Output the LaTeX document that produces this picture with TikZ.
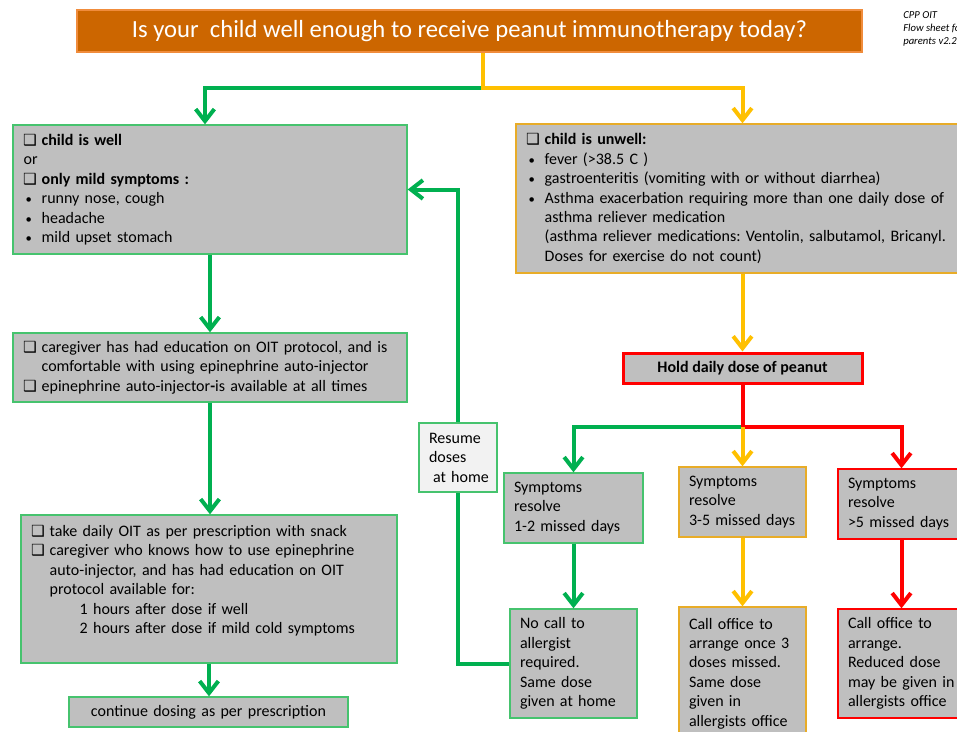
\documentclass[tikz,border=0pt]{standalone}
\usepackage{fontspec}
\setmainfont{Carlito}
\newfontfamily\symfont{DejaVu Sans}
\usetikzlibrary{arrows.meta}
\definecolor{grn}{RGB}{0,176,80}
\definecolor{grnedge}{RGB}{70,195,110}
\definecolor{ylw}{RGB}{255,192,0}
\definecolor{ylwedge}{RGB}{232,172,40}
\definecolor{rd}{RGB}{255,0,0}
\definecolor{boxgray}{RGB}{191,191,191}
\definecolor{paleg}{RGB}{242,242,242}
\definecolor{titleorange}{RGB}{204,102,0}
\definecolor{titleedge}{RGB}{240,140,60}
\newcommand{\chk}{\makebox[13.5pt][l]{\hspace{-0.5pt}\symfont\bfseries\fontsize{11.5}{11.5}\selectfont ❑}}
\newcommand{\bul}{\makebox[13.5pt][l]{\hspace{1.5pt}\fontsize{9.5}{9.5}\selectfont•}}
\newcommand{\ind}{\hspace*{13.5pt}}
\frenchspacing
\begin{document}
\begin{tikzpicture}[
x=0.75pt, y=-0.75pt,
every node/.style={font=\fontsize{12}{14.6}\selectfont},
box/.style={rectangle, draw, fill=boxgray, line width=1pt, inner xsep=8pt, inner ysep=0pt, align=left},
grnbox/.style={box, draw=grnedge},
ylwbox/.style={box, draw=ylwedge},
rdbox/.style={box, draw=rd},
smallbox/.style={inner xsep=7.5pt, minimum width=95.25pt, text width=80.25pt},
titlebox/.style={rectangle, fill=titleorange, draw=titleedge, line width=1pt, minimum width=588.75pt, minimum height=31.5pt, text=white, font=\fontsize{18.5}{20}\selectfont},
note/.style={align=left, inner sep=0pt, font=\fontsize{8}{9.75}\selectfont\itshape},
link/.style={line width=3pt},
flow/.style={link, -{Straight Barb[length=9pt,width=14pt]}},
]
\useasboundingbox (0,0) rectangle (957,732);

\node[titlebox] (title) at (469.5,31) {Is your\ \ child well enough to receive peanut immunotherapy today?};
\node[note, anchor=north west] (version) at (903,11) {CPP OIT\\Flow sheet for\\parents v2.2};

\node[grnbox, minimum width=295.5pt, minimum height=96.75pt, text width=279.5pt] (well) at (210,189.5)
  {\chk\textbf{child is well}\\ or\\ \chk\textbf{only mild symptoms :}\\ \bul runny nose, cough\\ \bul headache\\ \bul mild upset stomach};
\node[grnbox, minimum width=295.5pt, minimum height=51.75pt, text width=279.5pt] (care) at (210,367.5)
  {\chk \mbox{caregiver has had education on OIT protocol, and is}\\ \ind comfortable with using epinephrine auto-injector\\ \chk epinephrine auto-injector\textbf{-}is available at all times};
\node[grnbox, minimum width=282pt, minimum height=111pt, text width=266pt] (take) at (209,589)
  {\chk take daily OIT as per prescription with snack\\ \chk caregiver who knows how to use epinephrine\\ \ind auto-injector, and has had education on OIT\\ \ind protocol available for:\\ \hspace*{36pt}1 hours after dose if well\\ \hspace*{36pt}2 hours after dose if mild cold symptoms\\ \mbox{}};
\node[grnbox, minimum width=209.25pt, minimum height=22.5pt, text width=193.25pt, align=center] (cont) at (208.5,712)
  {continue dosing as per prescription};
\node[grnbox, fill=paleg, inner xsep=7.5pt, minimum width=58.5pt, minimum height=51.75pt, text width=43.5pt] (resume) at (458,457.5)
  {Resume\\ doses\\ \mbox{\hspace*{3pt}at home}};

\node[ylwbox, minimum width=334.5pt, minimum height=111.75pt, text width=318.5pt] (unwell) at (739,198.5)
  {\chk\textbf{child is unwell:}\\ \bul fever (>38.5 C )\\ \bul gastroenteritis (vomiting with or without diarrhea)\\ \bul \mbox{Asthma exacerbation requiring more than one daily dose of}\\ \ind asthma reliever medication\\ \ind \mbox{(asthma reliever medications: Ventolin, salbutamol, Bricanyl.}\\ \ind Doses for exercise do not count)};
\node[rdbox, line width=2.25pt, minimum width=179.25pt, minimum height=22.5pt, align=center, font=\fontsize{12}{14.6}\selectfont\bfseries] (hold) at (742.5,368)
  {Hold daily dose of peanut};

\node[grnbox, smallbox, minimum width=104.25pt, text width=89.25pt, minimum height=52.5pt] (sym1) at (573.5,508) {Symptoms\\ resolve\\ \mbox{1-2 missed days}};
\node[ylwbox, smallbox, minimum height=52.5pt] (sym2) at (742.5,502) {Symptoms\\ resolve\\ \mbox{3-5 missed days}};
\node[rdbox, smallbox, minimum height=52.5pt] (sym3) at (901.5,504) {Symptoms\\ resolve\\ \mbox{>5 missed days}};

\node[grnbox, smallbox, minimum height=81.75pt] (act1) at (573.5,663.5) {No call to\\ allergist\\ required.\\ Same dose\\ \mbox{given at home}};
\node[ylwbox, smallbox, minimum height=99.75pt] (act2) at (742.5,673.5) {Call office to\\ \mbox{arrange once 3}\\ doses missed.\\ Same dose\\ given in\\ \mbox{allergists office}};
\node[rdbox, smallbox, minimum height=81.75pt] (act3) at (901.5,663.5) {Call office to\\ arrange.\\ Reduced dose\\ \mbox{may be given in}\\ \mbox{allergists office}};

\coordinate (split) at (483,88);
\coordinate (fork) at (742.5,427);

\draw[flow, grn] (split) -| ([xshift=-3.75pt]well.north);
\draw[flow, ylw] (title.south -| split) -- (split) -| (unwell.north -| fork);
\draw[flow, grn] (well.south) -- (well.south |- care.north);
\draw[flow, grn] (care.south) -- (care.south |- take.north);
\draw[flow, grn] (take.south) -- (take.south |- cont.north);
\draw[flow, ylw] (unwell.south -| hold) -- (hold.north);
\draw[flow, grn] (fork) -| (sym1.north);
\draw[flow, rd] (fork) -| (sym3.north);
\draw[link, rd] (hold.south) -- (fork);
\draw[flow, ylw] (fork) -- (sym2.north);
\draw[flow, grn] (sym1.south) -- (act1.north);
\draw[flow, ylw] (sym2.south) -- (act2.north);
\draw[flow, rd] (sym3.south) -- (act3.north);
\draw[link, grn] (act1.west) -| (resume.south);
\draw[flow, grn] (resume.north) |- (well.east);
\end{tikzpicture}
\end{document}
